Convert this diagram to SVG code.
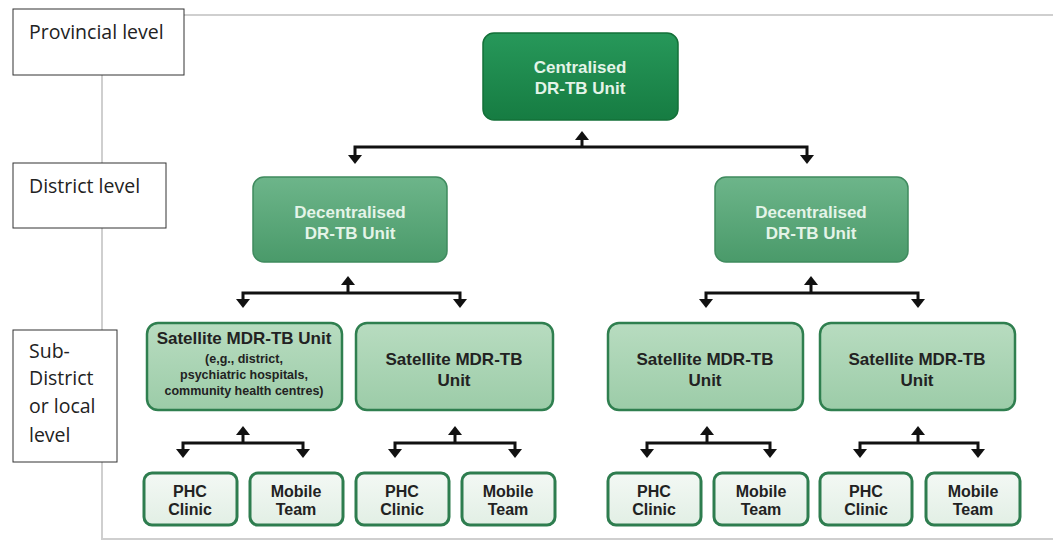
<svg xmlns="http://www.w3.org/2000/svg" width="1053" height="543" viewBox="0 0 1053 543">
  <defs>
    <linearGradient id="gCentral" x1="0" y1="0" x2="0" y2="1">
      <stop offset="0" stop-color="#27985a"/>
      <stop offset="1" stop-color="#167c42"/>
    </linearGradient>
    <linearGradient id="gDecentral" x1="0" y1="0" x2="0" y2="1">
      <stop offset="0" stop-color="#6db58a"/>
      <stop offset="1" stop-color="#4a9a6a"/>
    </linearGradient>
    <linearGradient id="gSat" x1="0" y1="0" x2="0" y2="1">
      <stop offset="0" stop-color="#b8dcc0"/>
      <stop offset="1" stop-color="#9ccca8"/>
    </linearGradient>
    <linearGradient id="gLeaf" x1="0" y1="0" x2="0" y2="1">
      <stop offset="0" stop-color="#f3f8f4"/>
      <stop offset="1" stop-color="#e2efe5"/>
    </linearGradient>
    <marker id="ah" viewBox="0 0 9 14" markerWidth="9" markerHeight="14" refX="1" refY="7" orient="auto-start-reverse" markerUnits="userSpaceOnUse">
      <path d="M0,0 L9,7 L0,14 Z" fill="#111"/>
    </marker>
    <style>
      .frame { stroke: #cfcfcf; stroke-width: 2; fill: none; }
      .lvl { fill: #ffffff; stroke: #333333; stroke-width: 1; }
      .lvlt { font-family: "Open Sans", "Liberation Sans", sans-serif; font-size: 19.5px; fill: #222; }
      .central { fill: url(#gCentral); stroke: #137038; stroke-width: 1.5; }
      .decentral { fill: url(#gDecentral); stroke: #3f8a5e; stroke-width: 1.5; }
      .sat { fill: url(#gSat); stroke: #2f7f4f; stroke-width: 2.5; }
      .leaf { fill: url(#gLeaf); stroke: #2e7d4f; stroke-width: 3; }
      .tl { font-family: "Liberation Sans", Arial, sans-serif; font-weight: bold; font-size: 17px; fill: #e4f4e8; text-anchor: middle; }
      .td { font-family: "Liberation Sans", Arial, sans-serif; font-weight: bold; font-size: 17px; fill: #222; text-anchor: middle; }
      .ts { font-family: "Liberation Sans", Arial, sans-serif; font-weight: bold; font-size: 12.5px; fill: #222; text-anchor: middle; }
      .tleaf { font-family: "Liberation Sans", Arial, sans-serif; font-weight: bold; font-size: 16px; fill: #222; text-anchor: middle; }
      .conn { stroke: #111; stroke-width: 3; fill: none; }
    </style>
  </defs>

  <rect x="0" y="0" width="1053" height="543" fill="#ffffff"/>

  <g id="frame">
    <line class="frame" x1="102" y1="15" x2="1053" y2="15"/>
    <line class="frame" x1="102" y1="15" x2="102" y2="540"/>
    <line class="frame" x1="102" y1="539" x2="1053" y2="539"/>
  </g>

  <g id="level-provincial">
    <rect class="lvl" x="13" y="9" width="171" height="66"/>
    <text class="lvlt" x="29" y="39">Provincial level</text>
  </g>
  <g id="level-district">
    <rect class="lvl" x="13" y="163" width="153" height="65"/>
    <text class="lvlt" x="29" y="193">District level</text>
  </g>
  <g id="level-subdistrict">
    <rect class="lvl" x="13" y="330" width="104" height="132"/>
    <text class="lvlt" x="29" y="358">Sub-</text>
    <text class="lvlt" x="29" y="385">District</text>
    <text class="lvlt" x="29" y="413">or local</text>
    <text class="lvlt" x="29" y="442">level</text>
  </g>

  <g id="connectors">
    <path class="conn" d="M355,156 V147 H807 V156" marker-start="url(#ah)" marker-end="url(#ah)"/>
    <path class="conn" d="M582,147 V139" marker-end="url(#ah)"/>
    <path class="conn" d="M243,300 V293 H460 V300" marker-start="url(#ah)" marker-end="url(#ah)"/>
    <path class="conn" d="M348,293 V284" marker-end="url(#ah)"/>
    <path class="conn" d="M706,300 V293 H918 V300" marker-start="url(#ah)" marker-end="url(#ah)"/>
    <path class="conn" d="M811,293 V284" marker-end="url(#ah)"/>
    <path class="conn" d="M183,450 V443 H303 V450" marker-start="url(#ah)" marker-end="url(#ah)"/>
    <path class="conn" d="M243,443 V434" marker-end="url(#ah)"/>
    <path class="conn" d="M395,450 V443 H515 V450" marker-start="url(#ah)" marker-end="url(#ah)"/>
    <path class="conn" d="M455,443 V434" marker-end="url(#ah)"/>
    <path class="conn" d="M647,450 V443 H770 V450" marker-start="url(#ah)" marker-end="url(#ah)"/>
    <path class="conn" d="M707,443 V434" marker-end="url(#ah)"/>
    <path class="conn" d="M860,450 V443 H978 V450" marker-start="url(#ah)" marker-end="url(#ah)"/>
    <path class="conn" d="M918,443 V434" marker-end="url(#ah)"/>
  </g>

  <g id="central">
    <rect class="central" x="483" y="33" width="195" height="87" rx="11"/>
    <text class="tl" x="580" y="73">Centralised</text>
    <text class="tl" x="580" y="94">DR-TB Unit</text>
  </g>

  <g id="decentral-left">
    <rect class="decentral" x="253" y="177" width="194" height="85" rx="11"/>
    <text class="tl" x="350" y="218">Decentralised</text>
    <text class="tl" x="350" y="239">DR-TB Unit</text>
  </g>
  <g id="decentral-right">
    <rect class="decentral" x="715" y="177" width="193" height="85" rx="11"/>
    <text class="tl" x="811" y="218">Decentralised</text>
    <text class="tl" x="811" y="239">DR-TB Unit</text>
  </g>

  <g id="satellite-1">
    <rect class="sat" x="147" y="323" width="195" height="87" rx="11"/>
    <text class="td" x="244" y="344">Satellite MDR-TB Unit</text>
    <text class="ts" x="244" y="363">(e,g., district,</text>
    <text class="ts" x="244" y="379">psychiatric hospitals,</text>
    <text class="ts" x="244" y="395">community health centres)</text>
  </g>
  <g id="satellite-2">
    <rect class="sat" x="356" y="323" width="197" height="87" rx="11"/>
    <text class="td" x="454" y="365">Satellite MDR-TB</text>
    <text class="td" x="454" y="386">Unit</text>
  </g>
  <g id="satellite-3">
    <rect class="sat" x="608" y="323" width="195" height="87" rx="11"/>
    <text class="td" x="705" y="365">Satellite MDR-TB</text>
    <text class="td" x="705" y="386">Unit</text>
  </g>
  <g id="satellite-4">
    <rect class="sat" x="820" y="323" width="195" height="87" rx="11"/>
    <text class="td" x="917" y="365">Satellite MDR-TB</text>
    <text class="td" x="917" y="386">Unit</text>
  </g>

  <g id="phc-1">
    <rect class="leaf" x="144" y="473" width="93" height="52" rx="8"/>
    <text class="tleaf" x="190" y="497">PHC</text>
    <text class="tleaf" x="190" y="515">Clinic</text>
  </g>
  <g id="mobile-1">
    <rect class="leaf" x="250" y="473" width="93" height="52" rx="8"/>
    <text class="tleaf" x="296" y="497">Mobile</text>
    <text class="tleaf" x="296" y="515">Team</text>
  </g>
  <g id="phc-2">
    <rect class="leaf" x="356" y="473" width="93" height="52" rx="8"/>
    <text class="tleaf" x="402" y="497">PHC</text>
    <text class="tleaf" x="402" y="515">Clinic</text>
  </g>
  <g id="mobile-2">
    <rect class="leaf" x="462" y="473" width="93" height="52" rx="8"/>
    <text class="tleaf" x="508" y="497">Mobile</text>
    <text class="tleaf" x="508" y="515">Team</text>
  </g>
  <g id="phc-3">
    <rect class="leaf" x="608" y="473" width="93" height="52" rx="8"/>
    <text class="tleaf" x="654" y="497">PHC</text>
    <text class="tleaf" x="654" y="515">Clinic</text>
  </g>
  <g id="mobile-3">
    <rect class="leaf" x="714" y="473" width="94" height="52" rx="8"/>
    <text class="tleaf" x="761" y="497">Mobile</text>
    <text class="tleaf" x="761" y="515">Team</text>
  </g>
  <g id="phc-4">
    <rect class="leaf" x="820" y="473" width="92" height="52" rx="8"/>
    <text class="tleaf" x="866" y="497">PHC</text>
    <text class="tleaf" x="866" y="515">Clinic</text>
  </g>
  <g id="mobile-4">
    <rect class="leaf" x="926" y="473" width="94" height="52" rx="8"/>
    <text class="tleaf" x="973" y="497">Mobile</text>
    <text class="tleaf" x="973" y="515">Team</text>
  </g>
</svg>
